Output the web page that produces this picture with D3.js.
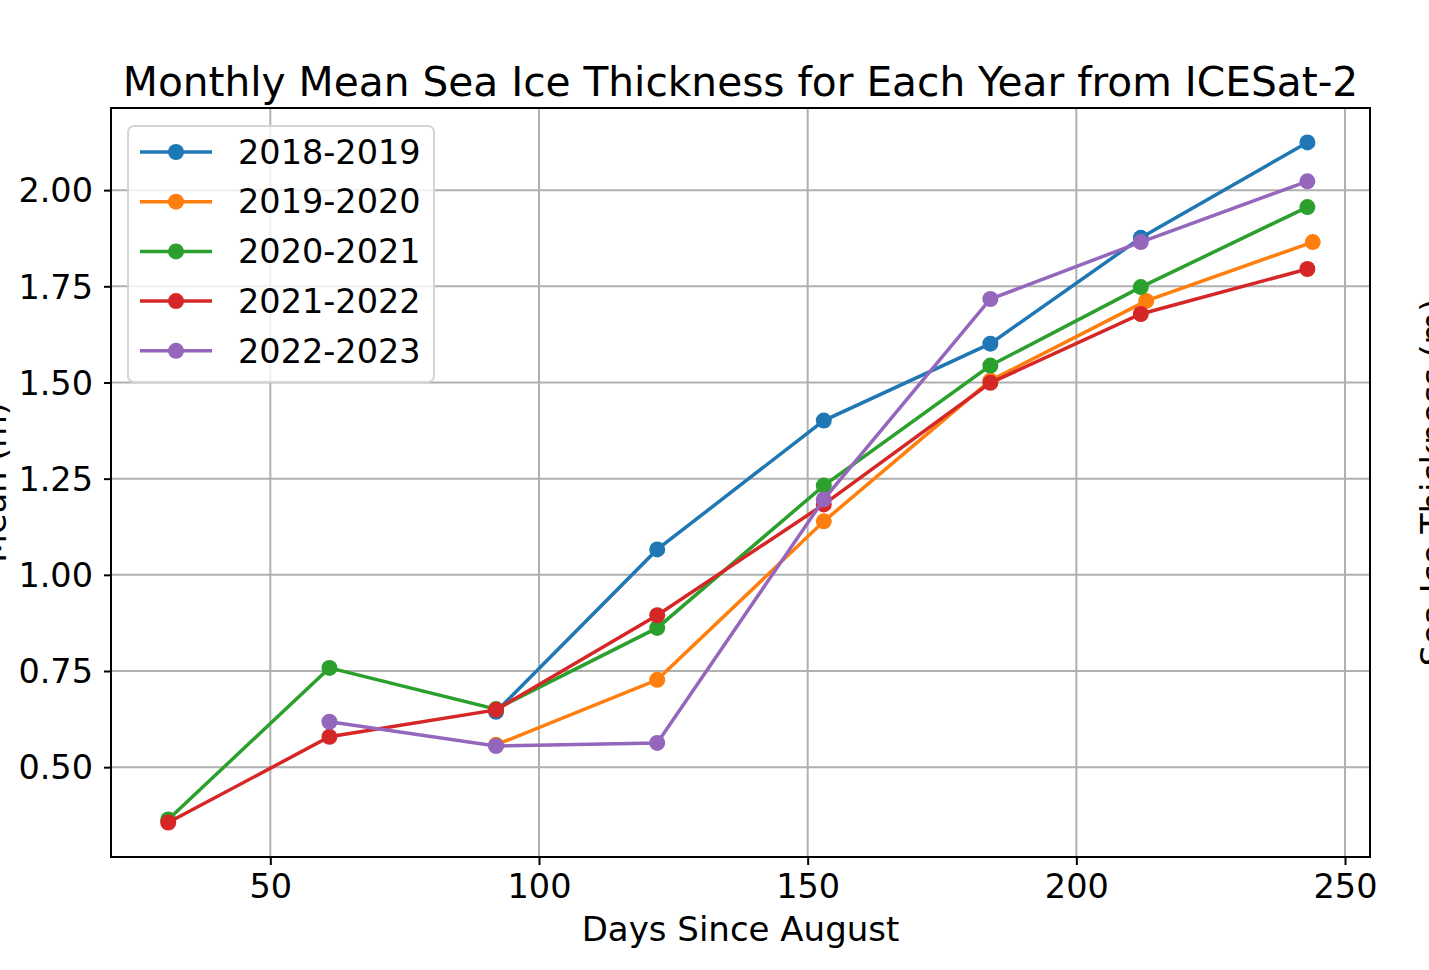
<!DOCTYPE html>
<html>
<head>
<meta charset="utf-8">
<script src="https://cdn.jsdelivr.net/npm/d3@7"></script>
<style>
  body { margin: 0; background: #fff; }
  svg { display: block; font-family: "DejaVu Sans", sans-serif; }
</style>
</head>
<body>
<svg id="chart" width="1429" height="970"></svg>
<script>
// data
var seasons = ["2018-2019", "2019-2020", "2020-2021", "2021-2022", "2022-2023"];
var colors = ["#1f77b4", "#ff7f0e", "#2ca02c", "#d62728", "#9467bd"];

var days2018 = [92, 122, 153, 184, 212, 243];
var mean2018 = [0.644, 1.066, 1.401, 1.601, 1.876, 2.124];
var days2019 = [92, 122, 153, 184, 213, 244];
var mean2019 = [0.558, 0.727, 1.139, 1.505, 1.712, 1.865];
var days2020 = [31, 61, 92, 122, 153, 184, 212, 243];
var mean2020 = [0.364, 0.758, 0.651, 0.862, 1.232, 1.544, 1.748, 1.956];
var days2021 = [31, 61, 92, 122, 153, 184, 212, 243];
var mean2021 = [0.356, 0.579, 0.649, 0.895, 1.183, 1.499, 1.678, 1.795];
var days2022 = [61, 92, 122, 153, 184, 212, 243];
var mean2022 = [0.618, 0.555, 0.563, 1.196, 1.717, 1.865, 2.023];

var xTicks = [50, 100, 150, 200, 250];
var yTicks = [0.50, 0.75, 1.00, 1.25, 1.50, 1.75, 2.00];

var allDays = [days2018, days2019, days2020, days2021, days2022];
var allMeans = [mean2018, mean2019, mean2020, mean2021, mean2022];

var series = seasons.map(function(s, i) {
  return {
    id: s,
    color: colors[i],
    values: allDays[i].map(function(d, j) { return {day: d, mean: allMeans[i][j]}; })
  };
});

var svg = d3.select("#chart"),
    margin = {top: 108, right: 59, bottom: 113, left: 111},
    width = svg.attr("width") - margin.left - margin.right,
    height = svg.attr("height") - margin.top - margin.bottom,
    g = svg.append("g").attr("transform", "translate(" + margin.left + "," + margin.top + ")");

var x = d3.scaleLinear().domain([20.35, 254.65]).range([0, width]),
    y = d3.scaleLinear().domain([0.2665, 2.2135]).range([height, 0]);

// grid
g.append("g").selectAll("line").data(xTicks).enter().append("line")
    .attr("x1", function(d) { return x(d); }).attr("x2", function(d) { return x(d); })
    .attr("y1", 0).attr("y2", height)
    .attr("stroke", "#b0b0b0").attr("stroke-width", 2);
g.append("g").selectAll("line").data(yTicks).enter().append("line")
    .attr("y1", function(d) { return y(d); }).attr("y2", function(d) { return y(d); })
    .attr("x1", 0).attr("x2", width)
    .attr("stroke", "#b0b0b0").attr("stroke-width", 2);

// axes
var xAxis = g.append("g")
    .attr("transform", "translate(0," + height + ")")
    .call(d3.axisBottom(x).tickValues(xTicks).tickSize(8).tickPadding(9).tickFormat(d3.format("d")));
var yAxis = g.append("g")
    .call(d3.axisLeft(y).tickValues(yTicks).tickSize(7).tickPadding(11).tickFormat(d3.format(".2f")));

[xAxis, yAxis].forEach(function(a) {
  a.select(".domain").remove();
  a.selectAll("line").attr("stroke", "#000").attr("stroke-width", 2);
  a.selectAll("text").attr("font-size", 33.5).attr("fill", "#000").attr("font-family", "DejaVu Sans");
});
yAxis.selectAll("text").attr("dy", "0.35em");

// frame
g.append("rect")
    .attr("width", width).attr("height", height)
    .attr("fill", "none").attr("stroke", "#000").attr("stroke-width", 2);

// lines and points
var line = d3.line()
    .x(function(d) { return x(d.day); })
    .y(function(d) { return y(d.mean); });

var seasonG = g.selectAll(".season").data(series).enter().append("g").attr("class", "season");
seasonG.append("path")
    .attr("d", function(d) { return line(d.values); })
    .attr("fill", "none")
    .attr("stroke", function(d) { return d.color; })
    .attr("stroke-width", 3.5);
seasonG.selectAll("circle")
    .data(function(d) { return d.values.map(function(v) { return {v: v, color: d.color}; }); })
    .enter().append("circle")
    .attr("cx", function(d) { return x(d.v.day); })
    .attr("cy", function(d) { return y(d.v.mean); })
    .attr("r", 8)
    .attr("fill", function(d) { return d.color; });

// legend
var legend = svg.append("g").attr("transform", "translate(128,126)");
legend.append("rect")
    .attr("width", 306).attr("height", 256).attr("rx", 6)
    .attr("fill", "#fff").attr("fill-opacity", 0.8)
    .attr("stroke", "#d5d5d5").attr("stroke-width", 2);
var item = legend.selectAll(".item").data(series).enter().append("g")
    .attr("transform", function(d, i) { return "translate(0," + (26 + i * 49.7) + ")"; });
item.append("line")
    .attr("x1", 12).attr("x2", 84)
    .attr("stroke", function(d) { return d.color; }).attr("stroke-width", 3.5);
item.append("circle")
    .attr("cx", 48).attr("r", 8)
    .attr("fill", function(d) { return d.color; });
item.append("text")
    .attr("x", 110).attr("dy", "0.35em")
    .attr("font-size", 33.5)
    .text(function(d) { return d.id; });

// titles
svg.append("text")
    .attr("x", margin.left + width / 2).attr("y", 96)
    .attr("text-anchor", "middle").attr("font-size", 40.7)
    .text("Monthly Mean Sea Ice Thickness for Each Year from ICESat-2");
svg.append("text")
    .attr("x", margin.left + width / 2).attr("y", 941)
    .attr("text-anchor", "middle").attr("font-size", 34)
    .text("Days Since August");
svg.append("text")
    .attr("transform", "translate(6," + (margin.top + height / 2) + ") rotate(-90)")
    .attr("text-anchor", "middle").attr("font-size", 33.5)
    .text("Mean (m)");
svg.append("text")
    .attr("transform", "translate(1445," + (margin.top + height / 2) + ") rotate(-90)")
    .attr("text-anchor", "middle").attr("font-size", 33.5)
    .text("Sea Ice Thickness (m)");
</script>
</body>
</html>
